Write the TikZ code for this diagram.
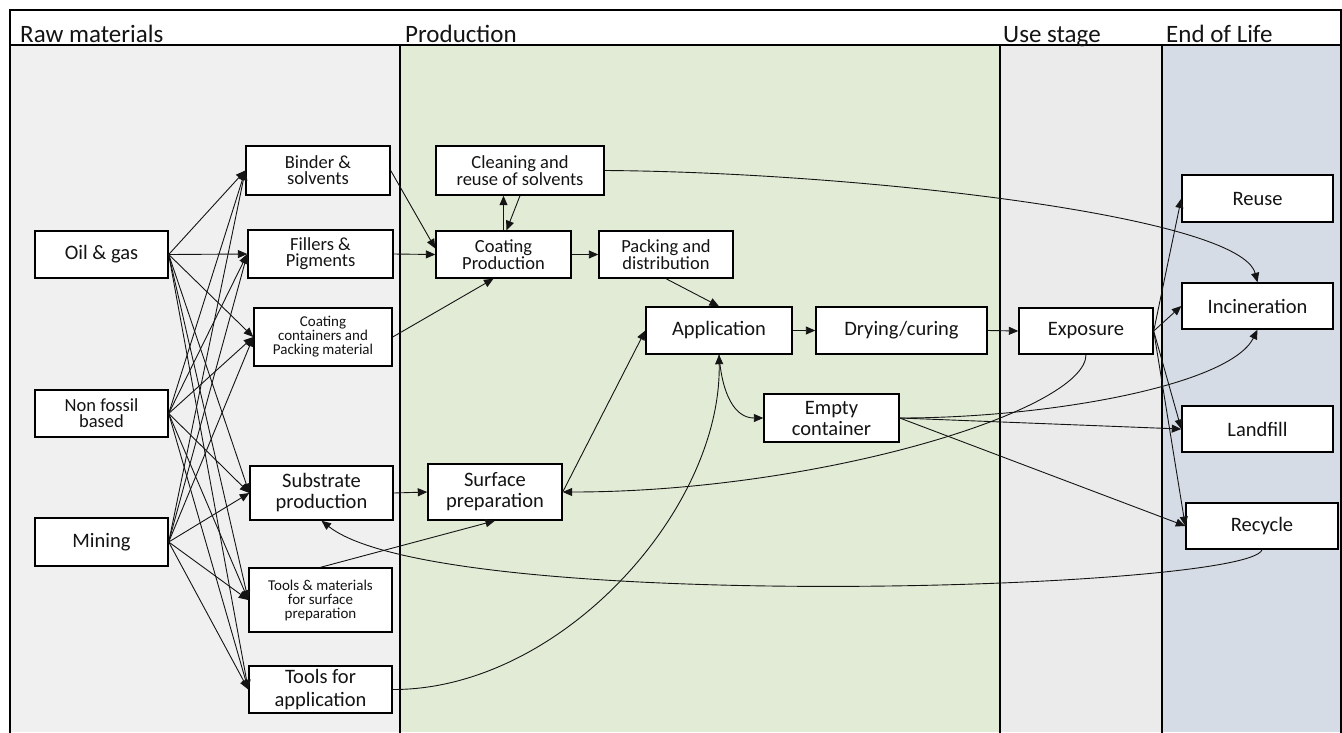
\documentclass[tikz,border=0pt]{standalone}
\usepackage{fontspec}
\setmainfont{Carlito}
\usetikzlibrary{arrows.meta}
\definecolor{rawbg}{RGB}{240,240,240}
\definecolor{prodbg}{RGB}{226,235,214}
\definecolor{usebg}{RGB}{235,235,235}
\definecolor{eolbg}{RGB}{214,220,229}
\definecolor{ink}{RGB}{20,20,20}
\begin{document}
\begin{tikzpicture}[x=1pt,y=-1pt,
  box/.style={draw=black, line width=1.4pt, fill=white, inner sep=0pt, align=center, text=ink},
  sz/.style 2 args={minimum width=#1pt, minimum height=#2pt},
  fa/.style={font=\fontsize{20.5}{21}\selectfont},
  fb/.style={font=\fontsize{18.5}{16}\selectfont},
  fc/.style={font=\fontsize{15}{14}\selectfont},
  hdr/.style={anchor=base west, inner sep=0pt, text=ink, font=\fontsize{25}{30}\selectfont},
  arr/.style={draw=ink, line width=0.9pt, -{Triangle[length=9.5pt,width=8pt]}},
  colline/.style={draw=black, line width=1.6pt}]
\useasboundingbox (0,0) rectangle (1342,732);
\fill[white] (0,0) rectangle (1342,732);
% columns
\fill[rawbg] (10,45) rectangle (400,732);
\fill[prodbg] (400,45) rectangle (1000,732);
\fill[usebg] (1000,45) rectangle (1162,732);
\fill[eolbg] (1162,45) rectangle (1341,732);
\draw[colline] (10,733) -- (10,10) -- (1341,10) -- (1341,733);
\draw[colline] (10,45) -- (1341,45);
\draw[colline] (400,45) -- (400,733);
\draw[colline] (1000,45) -- (1000,733);
\draw[colline] (1162,45) -- (1162,733);
% headers
\node[hdr] (hraw) at (20,42.7) {Raw materials};
\node[hdr] (hprod) at (405,42.7) {Production};
\node[hdr] (huse) at (1003,42.7) {Use stage};
\node[hdr] (heol) at (1166,42.7) {End of Life};
% raw materials
\node[box,fa,sz={133}{47}] (oil) at (101.5,254.5) {Oil \& gas};
\node[box,fb,sz={133}{47}] (nonfossil) at (101.5,413.5) {Non fossil\\based};
\node[box,fb,sz={144}{49}] (binder) at (318,170.5) {Binder \&\\solvents};
\node[box,fa,sz={133}{48}] (mining) at (101.5,542) {Mining};
\node[box,fb,sz={145}{48}] (fillers) at (320.5,254) {Fillers \&\\Pigments};
\node[box,fc,sz={138}{58}] (contain) at (323,337) {Coating\\containers and\\Packing material};
\node[box,fa,sz={143}{54}] (substrate) at (321.5,493) {Substrate\\production};
\node[box,fc,sz={143}{64}] (toolsmat) at (320.5,600) {Tools \& materials\\for surface\\preparation};
\node[box,sz={143}{47},font=\fontsize{20.5}{22.5}\selectfont] (toolsapp) at (320.5,689.5) {Tools for\\application};
% production
\node[box,fb,sz={168}{49}] (clean) at (520,170.5) {Cleaning and\\reuse of solvents};
\node[box,fb,sz={135}{47}] (coatprod) at (503.5,254.5) {Coating\\Production};
\node[box,fb,sz={134}{47}] (packing) at (666,254.5) {Packing and\\distribution};
\node[box,fa,sz={146}{47}] (application) at (719,330.5) {Application};
\node[box,fa,sz={171}{47}] (drying) at (901.5,330.5) {Drying/curing};
\node[box,fa,sz={135}{48}] (empty) at (831.5,418) {Empty\\container};
\node[box,fa,sz={134}{56}] (surface) at (495,492) {Surface\\preparation};
% use stage
\node[box,fa,sz={134}{46}] (exposure) at (1086,331) {Exposure};
% end of life
\node[box,fa,sz={151}{47}] (reuse) at (1257.5,198.5) {Reuse};
\node[box,fa,sz={151}{46}] (incin) at (1257.5,306) {Incineration};
\node[box,fa,sz={151}{46}] (landfill) at (1257.5,429) {Landfill};
\node[box,fa,sz={152}{46}] (recycle) at (1262,526) {Recycle};
% raw material connectors
\foreach \s in {oil,nonfossil,mining}
  \foreach \t in {binder,fillers,contain,substrate,toolsmat,toolsapp}
    \draw[arr] (\s.east) -- (\t.west);
% production connectors
\draw[arr] (binder.east) -- ([yshift=6pt]coatprod.west);
\draw[arr] (fillers.east) -- (coatprod.west);
\draw[arr] (contain.east) -- ([xshift=-10pt]coatprod.south);
\draw[arr] (coatprod.north) -- (coatprod.north |- clean.south);
\draw[arr] (clean.south) -- ([xshift=3pt]coatprod.north);
\draw[arr] (coatprod.east) -- (packing.west);
\draw[arr] (packing.south) -- (application.north);
\draw[arr] (application.east) -- (drying.west);
\draw[arr] (drying.east) -- (exposure.west);
\draw[arr] (substrate.east) -- (surface.west);
\draw[arr] (toolsmat.north) -- (surface.south);
\draw[arr] (surface.east) -- (application.west);
\draw[arr] (toolsapp.east) .. controls (560,690) and (722,510) .. (application.south);
\draw[arr] (application.south) .. controls (722,395) and (735,418) .. (empty.west);
% end of life connectors
\draw[arr] (exposure.east) -- (reuse.west);
\draw[arr] (exposure.east) -- (incin.west);
\draw[arr] (exposure.east) -- (landfill.west);
\draw[arr] (exposure.east) -- (recycle.west);
\draw[arr] (clean.east) .. controls (850,172) and (1240,215) .. (incin.north);
\draw[arr] (exposure.south) .. controls (1086,410) and (820,492) .. (surface.east);
\draw[arr] (empty.east) .. controls (1050,418) and (1230,385) .. (incin.south);
\draw[arr] (empty.east) -- (landfill.west);
\draw[arr] (empty.east) -- (recycle.west);
\draw[arr] (recycle.south) .. controls (1250,590) and (440,615) .. (substrate.south);
\end{tikzpicture}
\end{document}
